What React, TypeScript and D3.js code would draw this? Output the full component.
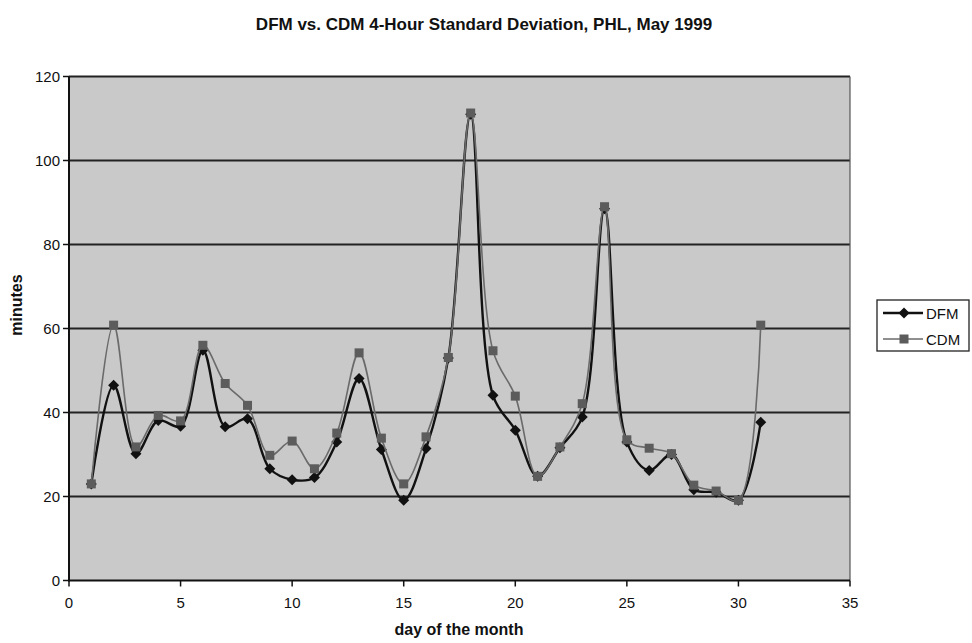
import React from "react";
import * as d3 from "d3";

const days = d3.range(1, 32);
const dfm = [23, 46.5, 30.2, 38.1, 36.7, 54.8, 36.6, 38.5, 26.6, 24.0, 24.5, 33.0, 48.1, 31.2, 19.1, 31.4, 53, 111, 44.1, 35.8, 24.8, 31.6, 38.9, 88.5, 33.0, 26.2, 30.0, 21.6, 21.0, 19.1, 37.7];
const cdm = [23, 60.8, 31.8, 39.3, 38.0, 56.0, 46.9, 41.7, 29.8, 33.2, 26.6, 35.1, 54.2, 33.9, 23.0, 34.2, 53.1, 111.3, 54.7, 43.9, 24.8, 31.8, 42.1, 89.0, 33.5, 31.5, 30.2, 22.7, 21.3, 19.1, 60.8];
const xTicks = [0, 5, 10, 15, 20, 25, 30, 35];
const yTicks = [0, 20, 40, 60, 80, 100, 120];
const seriesNames = ["DFM", "CDM"];

const W = 972, H = 643;
const left = 69, right = 850, top = 76.5, bottom = 580.5;

export default function App() {
  const x = d3.scaleLinear().domain([0, 35]).range([left, right]);
  const y = d3.scaleLinear().domain([0, 120]).range([bottom, top]);
  const line = d3
    .line<number>()
    .x((_, i) => x(days[i]))
    .y((d) => y(d))
    .curve(d3.curveCatmullRom.alpha(0.5));
  const font = "'Liberation Sans', Arial, sans-serif";
  const diamond = (cx: number, cy: number, r: number) =>
    `M${cx},${cy - r}L${cx + r},${cy}L${cx},${cy + r}L${cx - r},${cy}Z`;

  return (
    <svg width={W} height={H} style={{ position: "absolute", left: 0, top: 0, background: "#fff" }} fontFamily={font}>
      <text x={484} y={30} textAnchor="middle" fontWeight="bold" fontSize={17} fill="#111">
        DFM vs. CDM 4-Hour Standard Deviation, PHL, May 1999
      </text>
      <rect x={left} y={top} width={right - left} height={bottom - top} fill="#c9c9c9" />
      {yTicks.filter((t) => t > 0).map((t) => (
        <line key={t} x1={left} x2={right} y1={y(t)} y2={y(t)} stroke="#222" strokeWidth={1.8} />
      ))}
      <line x1={right} x2={right} y1={top} y2={bottom} stroke="#555" strokeWidth={1.2} />
      <line x1={left} x2={left} y1={top} y2={bottom + 1} stroke="#111" strokeWidth={2} />
      <line x1={left - 1} x2={right} y1={bottom} y2={bottom} stroke="#111" strokeWidth={2.2} />
      {yTicks.map((t) => (
        <g key={t}>
          <line x1={left - 6} x2={left} y1={y(t)} y2={y(t)} stroke="#111" strokeWidth={1.5} />
          <text x={left - 9} y={y(t) + 5} textAnchor="end" fontSize={15} fill="#111">
            {t}
          </text>
        </g>
      ))}
      {xTicks.map((t) => (
        <g key={t}>
          <line x1={x(t)} x2={x(t)} y1={bottom} y2={bottom + 6} stroke="#111" strokeWidth={1.5} />
          <text x={x(t)} y={bottom + 27} textAnchor="middle" fontSize={15} fill="#111">
            {t}
          </text>
        </g>
      ))}
      <text x={459} y={635} textAnchor="middle" fontWeight="bold" fontSize={16} fill="#111">
        day of the month
      </text>
      <text transform={`translate(22,${305}) rotate(-90)`} textAnchor="middle" fontWeight="bold" fontSize={16} fill="#111">
        minutes
      </text>
      <path d={line(dfm) || ""} fill="none" stroke="#111" strokeWidth={2.4} />
      {dfm.map((v, i) => (
        <path key={"d" + i} d={diamond(x(days[i]), y(v), 5.5)} fill="#111" />
      ))}
      <path d={line(cdm) || ""} fill="none" stroke="#6a6a6a" strokeWidth={1.6} />
      {cdm.map((v, i) => (
        <rect key={"c" + i} x={x(days[i]) - 4.5} y={y(v) - 4.5} width={9} height={9} fill="#5c5c5c" />
      ))}
      <rect x={877} y={300} width={92} height={51} fill="#fff" stroke="#222" strokeWidth={1.3} />
      <line x1={883} x2={923} y1={313} y2={313} stroke="#111" strokeWidth={2.4} />
      <path d={diamond(904, 313, 5.5)} fill="#111" />
      <text x={926} y={319} fontSize={15} fill="#111">{seriesNames[0]}</text>
      <line x1={883} x2={923} y1={339} y2={339} stroke="#6a6a6a" strokeWidth={1.6} />
      <rect x={899.5} y={334.5} width={9} height={9} fill="#5c5c5c" />
      <text x={926} y={345} fontSize={15} fill="#111">{seriesNames[1]}</text>
    </svg>
  );
}
